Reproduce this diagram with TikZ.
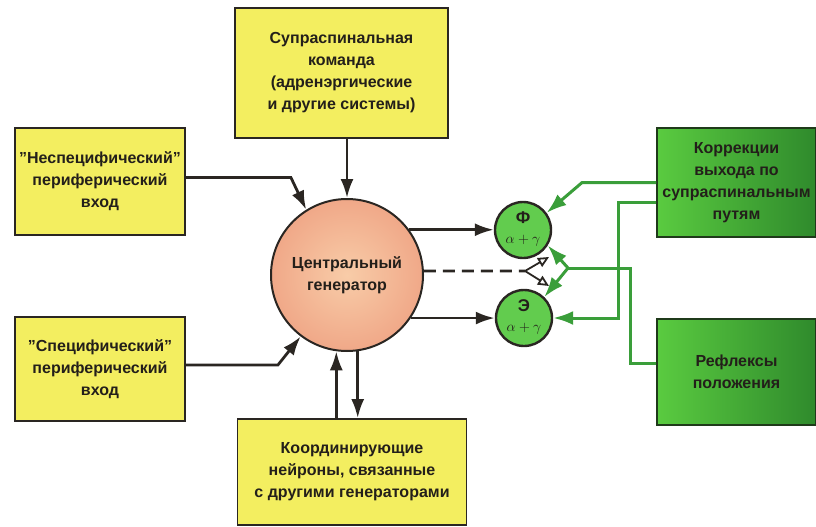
\documentclass[tikz,border=0pt]{standalone}
\usepackage{fontspec}
\setmainfont{Liberation Sans}
\usetikzlibrary{arrows.meta}
\definecolor{yfill}{HTML}{F3EE60}
\definecolor{txt}{HTML}{231F1A}
\definecolor{dline}{HTML}{2A2622}
\definecolor{gline}{HTML}{3A9E3A}
\definecolor{gcirc}{HTML}{62CC4E}
\definecolor{gboxl}{HTML}{5ACB40}
\definecolor{gboxr}{HTML}{2F8A2C}
\definecolor{gborder}{HTML}{1F3A1A}
\definecolor{genin}{HTML}{F8CCA8}
\definecolor{genout}{HTML}{F0A888}
\tikzset{
  lab/.style={font=\fontsize{16}{22}\selectfont\bfseries, text=txt, align=center},
  ybox/.style={lab, draw=dline, line width=1.8pt, fill=yfill, inner sep=0pt},
  gbox/.style={lab, draw=gborder, line width=1.8pt, left color=gboxl, right color=gboxr, inner sep=0pt},
  arr/.style={draw=dline, line width=2.8pt, -{Latex[length=19pt,width=13pt]}},
  garr/.style={draw=gline, line width=3pt, -{Latex[length=20pt,width=14pt]}},
  gline/.style={draw=gline, line width=3pt},
  oarr/.style={draw=dline, line width=1.8pt, -{Triangle[open,length=11pt,width=10pt]}},
  scirc/.style={circle, draw=dline, line width=2.4pt, fill=gcirc, minimum size=56pt, inner sep=0pt}
}
\begin{document}
\begin{tikzpicture}[x=1pt,y=-1pt]
\useasboundingbox (0,0) rectangle (816,527);
% yellow boxes
\node[ybox, minimum width=213pt, minimum height=130pt] (top) at (341.5,73)
  {Супраспинальная\\команда\\(адренэргические\\и другие системы)};
\node[ybox, minimum width=170pt, minimum height=107pt] (lt) at (100,181.5)
  {"Неспецифический"\\периферический\\вход};
\node[ybox, minimum width=170pt, minimum height=104pt] (lb) at (100,369)
  {"Специфический"\\периферический\\вход};
\node[ybox, minimum width=229pt, minimum height=106pt] (bot) at (352,472)
  {Координирующие\\нейроны, связанные\\с другими генераторами};
% central generator
\node[circle, draw=dline, line width=2pt, inner color=genin, outer color=genout,
      minimum size=152pt, inner sep=0pt, lab] (gen) at (347,275)
  {Центральный\\генератор};
% small circles
\node[scirc] (f) at (523,230) {};
\node[lab, font=\fontsize{17}{18}\selectfont\bfseries] (ft) at (523,218) {Ф};
\node[text=txt, font=\fontsize{15}{16}\selectfont] (fa) at (523,241) {$\alpha+\gamma$};
\node[scirc] (e) at (524,318) {};
\node[lab, font=\fontsize{17}{18}\selectfont\bfseries] (et) at (524,306) {Э};
\node[text=txt, font=\fontsize{15}{16}\selectfont] (ea) at (524,329) {$\alpha+\gamma$};
% green boxes
\node[gbox, minimum width=159pt, minimum height=109pt] (cor) at (736.5,182.5)
  {Коррекции\\выхода по\\супраспинальным\\путям};
\node[gbox, minimum width=159pt, minimum height=106pt] (ref) at (736.5,372)
  {Рефлексы\\положения};
% black connectors
\draw[arr] (gen.north |- top.south) -- (gen.north);
\draw[arr] ([yshift=4pt]lt.east) -- ++(105,0) -- (gen.122);
\draw[arr] ([yshift=4pt]lb.east) -- ++(92,0) -- (gen.233);
\draw[arr] (gen.262 |- bot.north) -- (gen.262);
\draw[arr] (gen.278) -- (gen.278 |- bot.north);
\draw[arr] (gen.36) -- (gen.36 -| f.west);
\draw[arr] (gen.-34) -- (gen.-34 -| e.west);
% dashed with open arrows
\coordinate (ds) at (525,271);
\coordinate (du) at (549,257);
\coordinate (dd) at (549,286);
\draw[dline, line width=2.6pt, dash pattern=on 12pt off 7pt] (gen.3) -- (ds);
\draw[oarr] (ds) -- (du);
\draw[oarr] (ds) -- (dd);
% green connectors
\draw[garr] (cor.west) -- ++(-74,0) -- (f.36);
\draw[garr] ([yshift=-20pt]cor.west) -- ++(-38,0) |- (e.east);
\coordinate (gs) at (568,268);
\draw[gline] ([yshift=9pt]ref.west) -- ++(-26,0) |- (gs);
\draw[garr] (gs) -- (f.-32);
\draw[garr] (gs) -- (e.46);
\end{tikzpicture}
\end{document}
